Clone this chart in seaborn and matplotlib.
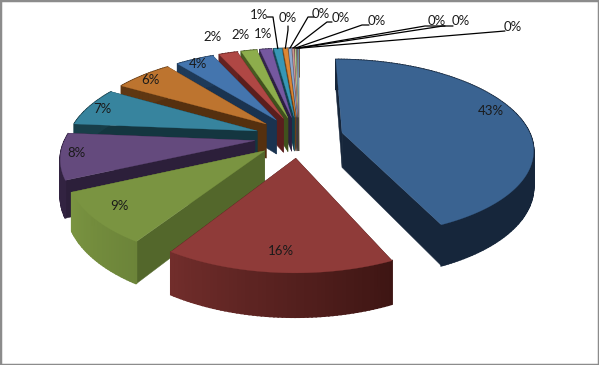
import numpy as np
import matplotlib.pyplot as plt
import seaborn as sns
from matplotlib.colors import to_rgb

sns.set_theme(style="white")
plt.rcParams['font.family'] = ['Lato', 'DejaVu Sans']

# slice shares, clockwise from 12 o'clock
values = [43.2, 15.8, 9.1, 8.2, 7.0, 5.9, 3.9, 1.9, 1.6, 1.2, 0.8, 0.45, 0.3, 0.2, 0.15, 0.1, 0.1, 0.05]
top_colors = ['#3A6391', '#8F3B39', '#7A9441', '#644A7D', '#37849E', '#BD742F', '#4475AE', '#AF4744', '#8DAD4C',
              '#7558A0', '#3797B5', '#DC8735', '#8FA8CC', '#CC9492', '#B5C98F', '#A898BE', '#8FC4D4', '#E8B88C']
side_colors = ['#16263B', '#3D1513', '#53672B', '#2C1F3A', '#143640', '#55300F', '#1A3350', '#5A1E1D', '#40511D',
               '#2C2040', '#123F4D', '#6A3F16', '#33415A', '#4E3130', '#4A5530', '#403850', '#34505A', '#5E4630']
labels = [f"{v / sum(values):.0%}" for v in values]

# label centres in picture pixels
label_x = [491, 281, 119, 77, 102, 150, 198, 213, 241, 263, 259, 288, 321, 341, 377, 437, 461, 513]
label_y = [111, 251, 206, 153, 109, 80, 64, 37, 35, 34, 15, 18, 14, 18, 21, 21, 21, 27]
# leader elbow per labelled thin slice: index -> elbow, end
leaders = {10: ((273, 17), (267, 17)), 11: ((288, 30), (288, 26)), 12: ((308, 17), (314, 17)),
           13: ((327, 22), (332, 22)), 14: ((362, 25), (369, 25)), 15: ((425, 26), (445, 26)),
           16: ((443, 26), (453, 26)), 17: ((505, 31), (505, 31))}

# projection settings for the tilted pie
cx, cy, a, b, k = 299, 137, 189, 87, 0.17
explode = 0.235
depth = 35


def project(u, v, down=0.0):
    w = 1 + k * v
    return cx + a * u / w, cy - b * v / w + down / w


fig, ax = plt.subplots(figsize=(5.99, 3.65), dpi=100)
fig.subplots_adjust(0, 0, 1, 1)
ax.set_xlim(0, 599)
ax.set_ylim(365, 0)
ax.set_xticks([])
ax.set_yticks([])
for s in ax.spines.values():
    s.set_color('#8C8C8C')
    s.set_linewidth(2.5)

edges = np.cumsum([0] + values) / sum(values) * 360
mids = (edges[:-1] + edges[1:]) / 2
eu = explode * np.sin(np.radians(mids))
ev = explode * np.cos(np.radians(mids))

# back slices first so the front ones cover them
for i in np.argsort(-ev):
    t0, t1 = edges[i], edges[i + 1]
    th = np.linspace(t0, t1, max(int(t1 - t0), 2) + 1)
    u = eu[i] + np.sin(np.radians(th))
    v = ev[i] + np.cos(np.radians(th))

    # flat radial walls
    for end in (0, -1):
        xs, ys = zip(project(eu[i], ev[i]), project(u[end], v[end]),
                     project(u[end], v[end], depth), project(eu[i], ev[i], depth))
        ax.fill(xs, ys, color=side_colors[i], lw=0.3)

    # rounded outer wall, lit from the left
    top = np.array(to_rgb(top_colors[i]))
    dark = np.array(to_rgb(side_colors[i]))
    for j in range(len(th) - 1):
        mid = (th[j] + th[j + 1]) / 2
        f = np.clip((mid - 155) / 90, 0, 1) if i < 3 else 0.1
        c = dark + (top - dark) * f
        xs, ys = zip(project(u[j], v[j]), project(u[j + 1], v[j + 1]),
                     project(u[j + 1], v[j + 1], depth), project(u[j], v[j], depth))
        ax.fill(xs, ys, color=c, lw=1.2)

    # top face
    px, py = project(np.r_[eu[i], u], np.r_[ev[i], v])
    ax.fill(px, py, color=top_colors[i], lw=0.2)

# leaders for the thin slices
for i, (elbow, end) in leaders.items():
    sx, sy = project(eu[i] + np.sin(np.radians(mids[i])), ev[i] + np.cos(np.radians(mids[i])))
    ax.plot([sx, elbow[0], end[0]], [sy, elbow[1], end[1]], color='black', lw=0.9, zorder=5)

for i, lab in enumerate(labels):
    ax.text(label_x[i], label_y[i], lab, ha='center', va='center', fontsize=9.5, color='#1A1A1A', zorder=6)

fig.savefig('out.png', dpi=100)
